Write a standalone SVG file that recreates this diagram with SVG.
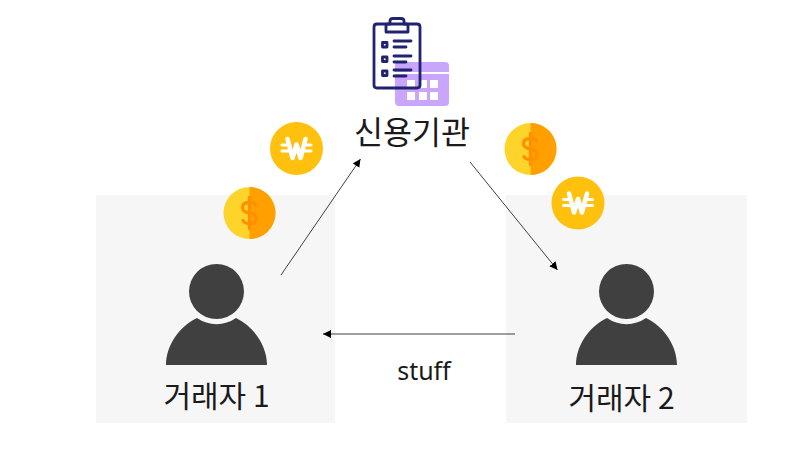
<svg xmlns="http://www.w3.org/2000/svg" width="800" height="450" viewBox="0 0 800 450">
<style>
.panel{fill:#f6f6f6}
.lbl{font-family:"Noto Sans CJK KR","Noto Sans",sans-serif;font-size:30px;fill:#1a1a1a;text-anchor:middle}
.cn{stroke:#404040;stroke-width:1;fill:none;marker-end:url(#ah)}
.person{fill:#404040}
.navy{fill:none;stroke:#1f2370;stroke-width:2.8;stroke-linecap:round;stroke-linejoin:round}
</style>
<defs>
<marker id="ah" markerUnits="userSpaceOnUse" markerWidth="10" markerHeight="9" refX="8" refY="4.500" orient="auto"><path d="M0 0.500L8 4.500L0 8.500Z" fill="#000"/></marker>
<g id="person">
<circle cx="0" cy="-60.500" r="27.500" class="person"/>
<path class="person" d="M-19.500 -34A34 34 0 0 0 19.500 -34C38 -25 50.500 -6 50.500 13H-50.500C-50.500 -6 -38 -25 -19.500 -34Z"/>
</g>
<g id="won">
<circle r="26.500" fill="#ffc10d"/>
<path d="M-9 -9.500L-4 9.500L0 -4L4 9.500L9 -9.500" fill="none" stroke="#fff" stroke-width="4.600" stroke-linecap="round" stroke-linejoin="round"/>
<path d="M-14.500 -3.500H-7M-14.500 2.500H-6M7 -3.500H14.500M6 2.500H14.500" stroke="#fff" stroke-width="3" stroke-linecap="round"/>
</g>
<g id="dollar">
<circle r="26" fill="#ffd42a"/>
<path d="M0 -26A26 26 0 0 1 0 26Z" fill="#ff9f00"/>
<path d="M6.500 -7.500Q5.500 -10.500 0 -10.500Q-7 -10.500 -7 -5.500Q-7 -1 0 0Q7 1 7 5.500Q7 10.500 0 10.500Q-5.500 10.500 -6.500 7.500M0 -15.500V15.500" fill="none" stroke="#ff9100" stroke-width="3.300" stroke-linecap="round"/>
</g>
</defs>
<rect width="800" height="450" fill="#fff"/>
<g id="node-trader1">
<rect class="panel" x="96" y="195" width="239" height="228"/>
<use href="#person" x="216.500" y="352"/>
<text class="lbl" x="216.500" y="407">거래자 1</text>
</g>
<g id="node-trader2">
<rect class="panel" x="506" y="195" width="241" height="228"/>
<use href="#person" x="626.500" y="352"/>
<text class="lbl" x="621.500" y="409">거래자 2</text>
</g>
<g id="node-agency">
<rect x="395" y="62" width="54" height="44" rx="4" fill="#c9a6fb"/>
<rect x="395" y="72" width="54" height="2" fill="#fff"/>
<g fill="#fff"><rect x="407" y="80" width="8" height="8"/><rect x="419" y="80" width="8" height="8"/><rect x="430" y="80" width="8" height="8"/><rect x="407" y="92" width="8" height="8"/><rect x="419" y="92" width="8" height="8"/><rect x="430" y="92" width="8" height="8"/></g>
<path class="navy" d="M386 24H417Q420 24 420 27V85Q420 88 417 88H377Q374 88 374 85V27Q374 24 377 24H386"/>
<path class="navy" d="M386 32V26Q386 24 388 24H390V21Q390 18.500 393 18.500H401Q404 18.500 404 21V24H406Q408 24 408 26V32Z"/>
<path class="navy" d="M382.500 42.500h4.500v4.500h-4.500zM382.500 57h4.500v4.500h-4.500zM382.500 71h4.500v4.500h-4.500zM394 41H411M394 47H406M394 56H411M394 62H406M394 70H411M394 76H406"/>
<text class="lbl" x="412" y="144" style="font-size:31.500px">신용기관</text>
</g>
<g id="coins">
<use href="#won" x="296.500" y="148.500"/>
<use href="#dollar" x="249.500" y="213"/>
<use href="#dollar" x="530.500" y="149"/>
<use href="#won" x="578" y="203"/>
</g>
<g id="connectors">
<path class="cn" d="M281 275L360.500 159"/>
<path class="cn" d="M470 162L557.500 270"/>
<path class="cn" d="M515 334H323"/>
</g>
<text x="424" y="380" font-family="'Noto Sans',sans-serif" font-size="25" fill="#1a1a1a" text-anchor="middle">stuff</text>
</svg>
